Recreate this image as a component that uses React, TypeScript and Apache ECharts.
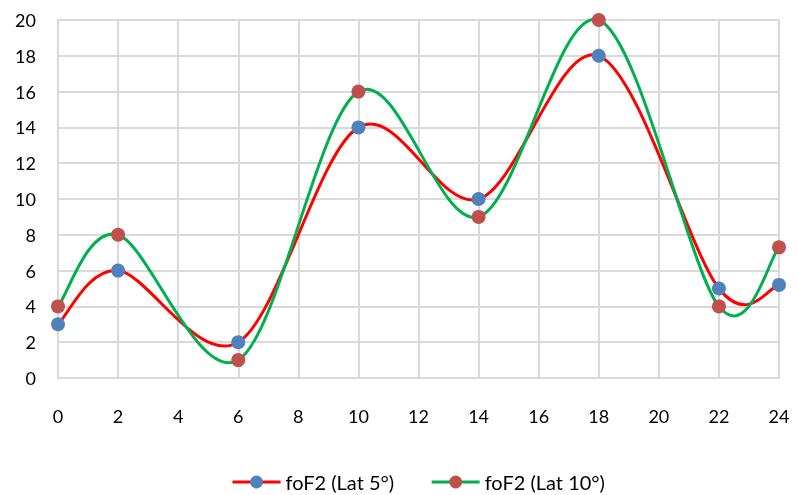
import React, { useEffect, useRef } from "react";
import * as echarts from "echarts";

const hours = [0, 2, 6, 10, 14, 18, 22, 24];
const lat5 = [3, 6, 2, 14, 10, 18, 5, 5.2];
const lat10 = [4, 8, 1, 16, 9, 20, 4, 7.3];
const seriesNames = ["foF2 (Lat 5°)", "foF2 (Lat 10°)"];
const lineColors = ["#ff0000", "#00b050"];
const markerColors = ["#4f81bd", "#c0504d"];

// Excel-like smoothed curve (Catmull-Rom -> cubic Bezier) drawn in pixel space via the axes' scales
function smoothPath(pts: number[][]): string {
  const n = pts.length;
  let d = `M${pts[0][0]},${pts[0][1]}`;
  for (let i = 0; i < n - 1; i++) {
    const p0 = pts[Math.max(0, i - 1)];
    const p1 = pts[i];
    const p2 = pts[i + 1];
    const p3 = pts[Math.min(n - 1, i + 2)];
    const k = 1 / 6;
    const c1x = p1[0] + (p2[0] - p0[0]) * k;
    const c1y = p1[1] + (p2[1] - p0[1]) * k;
    const c2x = p2[0] - (p3[0] - p1[0]) * k;
    const c2y = p2[1] - (p3[1] - p1[1]) * k;
    d += ` C${c1x},${c1y} ${c2x},${c2y} ${p2[0]},${p2[1]}`;
  }
  return d;
}

function curveSeries(name: string, values: number[], color: string) {
  return {
    name,
    type: "custom",
    z: 2,
    silent: true,
    data: hours.map((h, i) => [h, values[i]]),
    encode: { x: 0, y: 1 },
    renderItem: (params: any, api: any) => {
      if (params.dataIndex !== 0) return null;
      const pts = hours.map((h, i) => api.coord([h, values[i]]));
      return {
        type: "path",
        shape: { pathData: smoothPath(pts) },
        style: { fill: "none", stroke: color, lineWidth: 3, lineJoin: "round" },
      };
    },
  };
}

export default function App() {
  const ref = useRef<HTMLDivElement>(null);
  useEffect(() => {
    const chart = echarts.init(ref.current!, null, { renderer: "svg" });
    const font = "Lato, 'Open Sans', sans-serif";
    chart.setOption({
      animation: false,
      grid: { left: 58, right: 18, top: 20, bottom: 117 },
      legend: {
        top: 472,
        left: 231,
        padding: 0,
        itemWidth: 48,
        itemHeight: 16,
        itemGap: 36,
        textStyle: { fontFamily: font, fontSize: 20, lineHeight: 20, color: "#000" },
        data: seriesNames.map((name, i) => ({
          name,
          lineStyle: { color: lineColors[i], width: 3, opacity: 1, type: "solid" },
        })),
      },
      xAxis: {
        type: "value",
        min: 0,
        max: 24,
        interval: 2,
        axisLine: { show: true, lineStyle: { color: "#d9d9d9", width: 2 } },
        axisTick: { show: false },
        splitLine: { show: true, lineStyle: { color: "#d9d9d9", width: 2 } },
        axisLabel: { margin: 29, fontFamily: font, fontSize: 18, color: "#000" },
      },
      yAxis: {
        type: "value",
        min: 0,
        max: 20,
        interval: 2,
        axisLine: { show: true, lineStyle: { color: "#d9d9d9", width: 2 } },
        axisTick: { show: false },
        splitLine: { show: true, lineStyle: { color: "#d9d9d9", width: 2 } },
        axisLabel: { margin: 22, fontFamily: font, fontSize: 18, color: "#000" },
      },
      series: [
        curveSeries("curve5", lat5, lineColors[0]),
        curveSeries("curve10", lat10, lineColors[1]),
        {
          name: seriesNames[0],
          type: "line",
          data: hours.map((h, i) => [h, lat5[i]]),
          symbol: "circle",
          symbolSize: 14,
          showAllSymbol: true,
          lineStyle: { color: lineColors[0], width: 0, opacity: 0 },
          itemStyle: { color: markerColors[0] },
          z: 4,
        },
        {
          name: seriesNames[1],
          type: "line",
          data: hours.map((h, i) => [h, lat10[i]]),
          symbol: "circle",
          symbolSize: 14,
          showAllSymbol: true,
          lineStyle: { color: lineColors[1], width: 0, opacity: 0 },
          itemStyle: { color: markerColors[1] },
          z: 4,
        },
      ],
    });
    return () => chart.dispose();
  }, []);
  return (
    <div
      ref={ref}
      style={{ position: "fixed", left: 0, top: 0, width: 797, height: 495 }}
    />
  );
}
